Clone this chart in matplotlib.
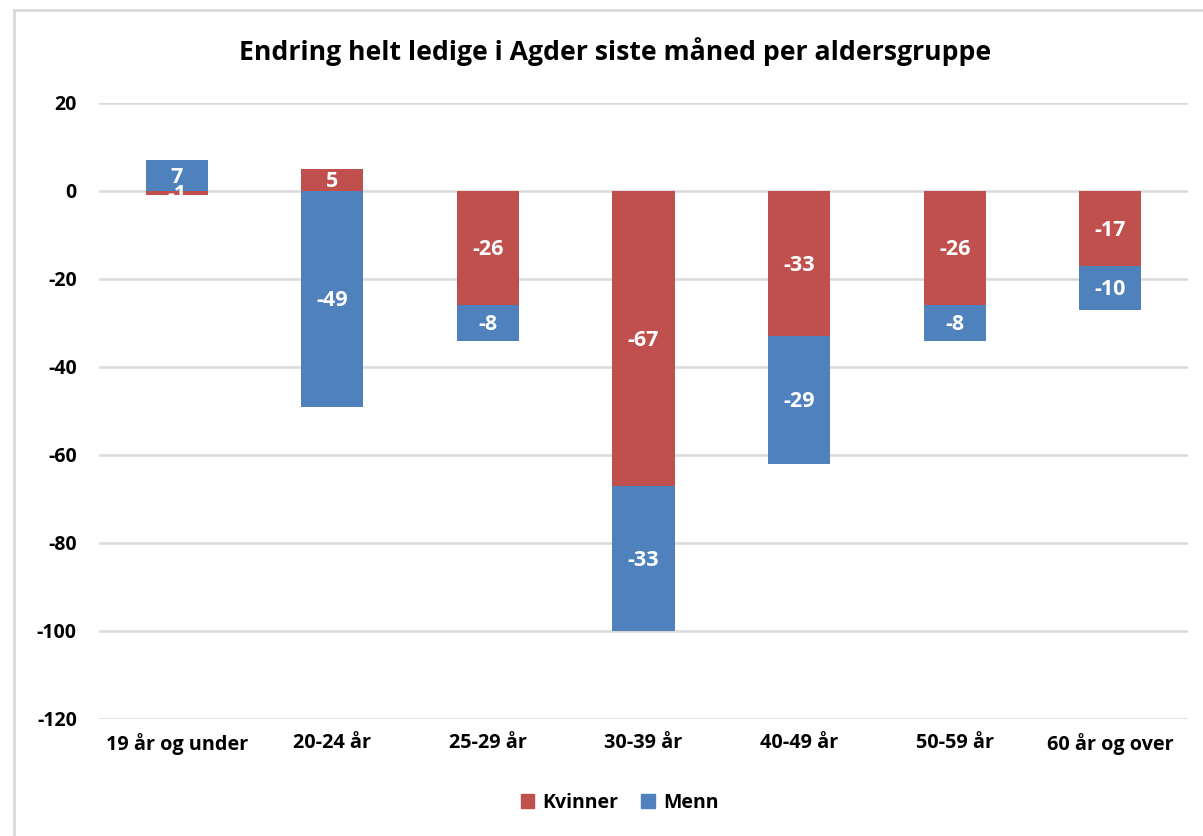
import matplotlib
matplotlib.use("Agg")
import matplotlib.pyplot as plt
from matplotlib.lines import Line2D
from matplotlib.patches import Patch
import numpy as np

categories = ["19 år og under", "20-24 år", "25-29 år", "30-39 år", "40-49 år", "50-59 år", "60 år og over"]
kvinner = [-1, 5, -26, -67, -33, -26, -17]
menn = [7, -49, -8, -33, -29, -8, -10]
title = "Endring helt ledige i Agder siste måned per aldersgruppe"
yticks = [20, 0, -20, -40, -60, -80, -100, -120]

RED = "#C0504D"
BLUE = "#4F81BD"
GRID = "#D9D9D9"

plt.rcParams['font.family'] = ['Open Sans', 'DejaVu Sans']

fig = plt.figure(figsize=(12.03, 8.36), dpi=100)
ax = fig.add_axes([99/1203, 1-719/836, (1188-99)/1203, (719-103)/836])

x = np.arange(len(categories))
w = 0.4
pos_base = np.zeros(len(categories))
neg_base = np.zeros(len(categories))

for vals, color in [(kvinner, RED), (menn, BLUE)]:
    for i, v in enumerate(vals):
        if v >= 0:
            b = pos_base[i]
            pos_base[i] += v
        else:
            b = neg_base[i]
            neg_base[i] += v
        ax.bar(x[i], v, bottom=b, width=w, color=color, zorder=3)
        ax.text(x[i], b + v/2 - 0.4, f"{v}", ha="center", va="center", color="white",
                fontsize=15.5, fontweight="bold", zorder=4)

ax.set_xlim(-0.5, len(categories)-0.5)
ax.set_ylim(-120, 20)
ax.set_yticks(yticks)
ax.set_yticklabels([str(t) for t in yticks], fontsize=14, fontweight="bold")
ax.set_xticks(x)
ax.set_xticklabels(categories, fontsize=14.3, fontweight="bold")
ax.tick_params(axis="both", length=0)
ax.tick_params(axis="y", pad=16)
ax.tick_params(axis="x", pad=10)
for s in ax.spines.values():
    s.set_visible(False)
ax.yaxis.grid(True, color=GRID, linewidth=1.8, zorder=0)
ax.set_axisbelow(True)

fig.text(0.511, 1-52/836, title, ha="center", va="center", fontsize=19.2, fontweight="bold")

# outer border
fig.add_artist(Line2D([14/1203, 14/1203], [0, 1-10/836], color=GRID, linewidth=2, transform=fig.transFigure))
fig.add_artist(Line2D([14/1203, 1], [1-10/836, 1-10/836], color=GRID, linewidth=2, transform=fig.transFigure))

handles = [Patch(color=RED, label="Kvinner"), Patch(color=BLUE, label="Menn")]
fig.legend(handles=handles, loc="center", bbox_to_anchor=(0.515, 1-803/836), ncol=2, frameon=False,
           handlelength=0.7, handleheight=0.7, handletextpad=0.4, columnspacing=1.2,
           prop={'weight': 'bold', 'size': 14})

fig.savefig("out.png", dpi=100)
